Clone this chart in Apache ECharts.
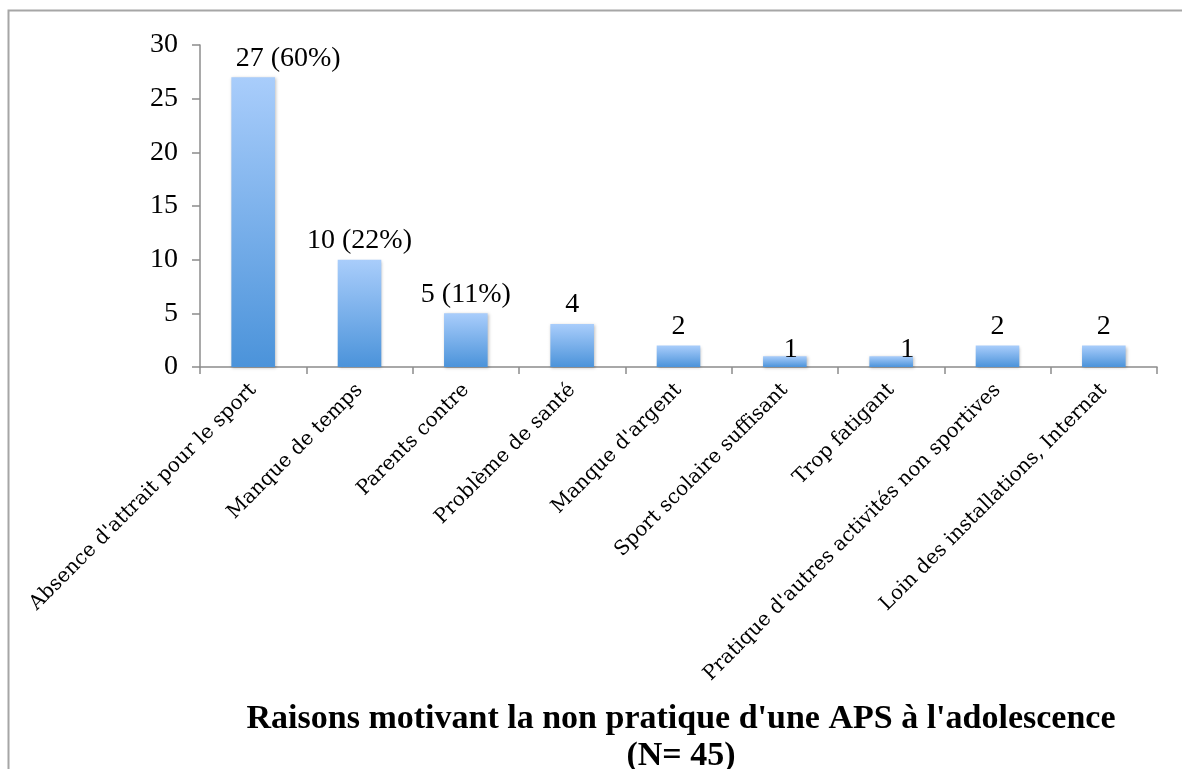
<!DOCTYPE html>
<html>
<head>
<meta charset="utf-8">
<script src="https://cdn.jsdelivr.net/npm/echarts@6/dist/echarts.min.js"></script>
<style>
  html, body { margin: 0; padding: 0; background: #fff; }
  #main { width: 1182px; height: 769px; }
</style>
</head>
<body>
<div id="main"></div>
<script>
// raisons (axe des x)
var categories = [
	"Absence d'attrait pour le sport",
	'Manque de temps',
	'Parents contre',
	'Problème de santé',
	"Manque d'argent",
	'Sport scolaire suffisant',
	'Trop fatigant',
	"Pratique d'autres activités non sportives",
	'Loin des installations, Internat'
];
// nombre de réponses
var counts = [27, 10, 5, 4, 2, 1, 1, 2, 2];
// pourcentages affichés (seulement les 3 premiers)
var percents = ['60%', '22%', '11%', null, null, null, null, null, null];
var yTicks = [0, 5, 10, 15, 20, 25, 30];

var serif = 'Liberation Serif';

// certaines étiquettes sont décalées dans l'original
var labelShift = { 0: [35, 0], 5: [6, 12], 6: [16, 12] };

var barData = counts.map(function(v, i) {
	var item = { value: v };
	if (labelShift[i]) {
		item.label = { offset: labelShift[i] };
	}
	return item;
});

var myChart = echarts.init(document.getElementById('main'));
var option = {
	animation: false,
	backgroundColor: '#fff',
	grid: {
		left: 200,
		right: 25,
		top: 45,
		bottom: 402
	},
	title: {
		text: "Raisons motivant la non pratique d'une APS à l'adolescence\n(N= 45)",
		left: 676,
		top: 696,
		textAlign: 'center',
		textStyle: {
			fontFamily: serif,
			fontWeight: 'bold',
			fontSize: 34,
			color: '#000',
			lineHeight: 37
		}
	},
	graphic: [{
		type: 'rect',
		shape: { x: 8.5, y: 10.5, width: 1300, height: 900 },
		style: { fill: 'none', stroke: '#a6a6a6', lineWidth: 2 },
		silent: true
	}],
	xAxis: {
		type: 'category',
		data: categories,
		boundaryGap: true,
		axisLine: { lineStyle: { color: '#8c8c8c', width: 1.5 } },
		axisTick: { show: true, length: 7, alignWithLabel: false, lineStyle: { color: '#8c8c8c', width: 1.5 } },
		axisLabel: {
			interval: 0,
			rotate: 45,
			margin: 20,
			fontFamily: 'DejaVu Serif',
			fontSize: 20,
			color: '#000'
		}
	},
	yAxis: {
		type: 'value',
		min: yTicks[0],
		max: yTicks[yTicks.length - 1],
		interval: 5,
		splitLine: { show: false },
		axisLine: { show: true, lineStyle: { color: '#8c8c8c', width: 1.5 } },
		axisTick: { show: true, length: 8, lineStyle: { color: '#8c8c8c', width: 1.5 } },
		axisLabel: {
			margin: 22,
			fontFamily: serif,
			fontSize: 28,
			color: '#000'
		}
	},
	series: [{
		type: 'bar',
		data: barData,
		barWidth: '41%',
		itemStyle: {
			color: new echarts.graphic.LinearGradient(0, 0, 0, 1, [
				{ offset: 0, color: '#a9cdfb' },
				{ offset: 1, color: '#4b93da' }
			]),
			shadowColor: 'rgba(0,0,0,0.25)',
			shadowBlur: 3,
			shadowOffsetX: 1,
			shadowOffsetY: 1
		},
		label: {
			show: true,
			position: 'top',
			distance: 5,
			fontFamily: serif,
			fontSize: 28,
			color: '#000',
			formatter: function(p) {
				var pc = percents[p.dataIndex];
				return pc ? p.value + ' (' + pc + ')' : String(p.value);
			}
		}
	}]
};
myChart.setOption(option);
</script>
</body>
</html>
